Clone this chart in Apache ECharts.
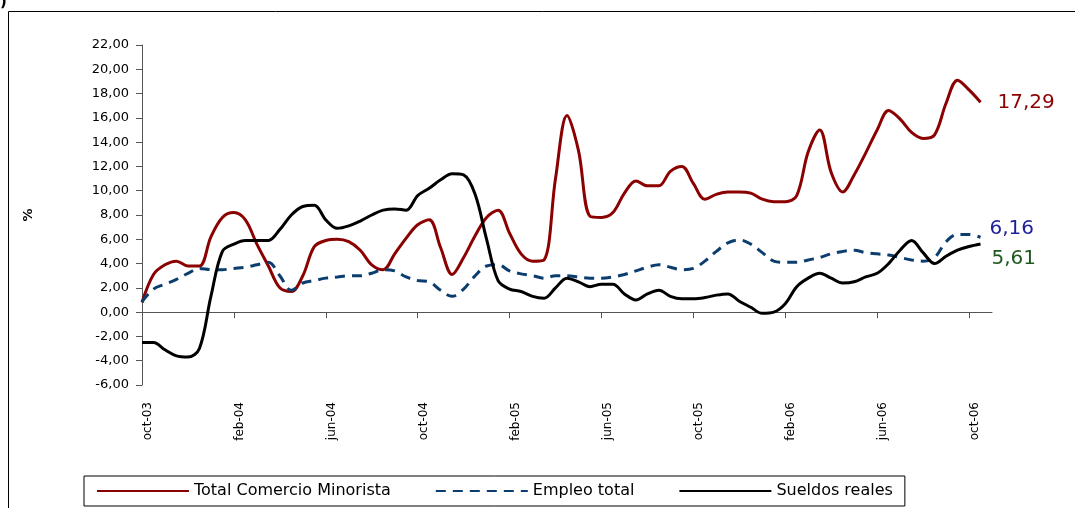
<!DOCTYPE html>
<html>
<head>
<meta charset="utf-8">
<script src="https://cdn.jsdelivr.net/npm/echarts@6/dist/echarts.min.js"></script>
<style>
html, body { margin: 0; padding: 0; background: #fff; }
#main { width: 1075px; height: 508px; }
</style>
</head>
<body>
<div id="main"></div>
<script>
// meses del periodo; cada mes se divide en dos quincenas
var months = ['oct-03','nov-03','dic-03','ene-04','feb-04','mar-04','abr-04','may-04','jun-04',
    'jul-04','ago-04','sep-04','oct-04','nov-04','dic-04','ene-05','feb-05','mar-05','abr-05',
    'may-05','jun-05','jul-05','ago-05','sep-05','oct-05','nov-05','dic-05','ene-06','feb-06',
    'mar-06','abr-06','may-06','jun-06','jul-06','ago-06','sep-06','oct-06','nov-06'];

var seriesNames = ['Total Comercio Minorista', 'Empleo total', 'Sueldos reales'];

var comercio = [0.8,3.1,3.9,4.2,3.8,3.8,6.2,7.8,8.2,7.6,5.6,3.8,2.0,1.7,3.0,5.4,5.9,6.0,5.8,5.1,
    3.9,3.5,4.8,6.1,7.2,7.6,5.3,3.1,4.5,6.3,7.8,8.4,6.5,4.8,4.2,4.3,11.0,16.2,13.3,7.9,
    7.8,8.2,9.8,10.8,10.4,10.4,11.6,12.0,10.6,9.3,9.7,9.9,9.9,9.8,9.3,9.1,9.1,9.6,13.2,15.0,
    11.5,9.9,11.3,13.1,15.0,16.6,15.9,14.8,14.3,14.6,17.2,19.1,18.3,17.29];

var empleo = [0.85,1.9,2.3,2.7,3.2,3.6,3.5,3.5,3.6,3.7,3.9,4.1,3.0,1.8,2.4,2.6,2.8,2.9,3.0,3.0,
    3.2,3.5,3.4,2.9,2.6,2.5,1.8,1.3,1.9,3.0,3.8,3.9,3.4,3.15,3.0,2.8,3.0,3.0,2.9,2.8,
    2.8,2.9,3.1,3.4,3.7,3.9,3.7,3.5,3.6,4.2,5.0,5.7,5.95,5.6,4.9,4.2,4.1,4.1,4.3,4.5,
    4.8,5.0,5.1,4.9,4.8,4.7,4.5,4.3,4.2,4.5,5.8,6.4,6.4,6.16];

var sueldos = [-2.5,-2.5,-3.1,-3.6,-3.7,-3.0,1.3,5.0,5.6,5.9,5.9,5.9,6.8,8.0,8.7,8.8,7.6,6.9,7.1,7.5,
    8.0,8.4,8.5,8.4,9.6,10.2,10.9,11.4,11.3,9.7,6.0,2.6,1.9,1.7,1.3,1.15,2.0,2.8,2.5,2.1,
    2.3,2.3,1.5,1.0,1.5,1.8,1.3,1.1,1.1,1.2,1.4,1.5,0.9,0.4,-0.1,0.0,0.7,2.1,2.8,3.2,
    2.8,2.4,2.5,2.9,3.2,4.0,5.1,5.9,4.9,4.0,4.6,5.1,5.4,5.61];

var categories = [];
months.forEach(function (m) {
    categories.push(m);
    categories.push(m + ' (2)');
});
categories = categories.slice(0, 75);

var font = 'DejaVu Sans';
function coma(v) {
    return v.toFixed(2).replace('.', ',');
}

var myChart = echarts.init(document.getElementById('main'));

var option = {
    animation: false,
    textStyle: { fontFamily: font },
    graphic: [
        {
            type: 'rect',
            shape: { x: 8.5, y: 11.5, width: 1100, height: 600 },
            style: { fill: 'none', stroke: '#000', lineWidth: 1 }
        },
        {
            type: 'text',
            left: 0,
            top: -5,
            style: { text: ')', font: 'bold 15px ' + font, fill: '#000' }
        }
    ],
    grid: { left: 142, right: 83, top: 45, bottom: 123 },
    legend: {
        left: 84,
        top: 476,
        data: seriesNames,
        itemWidth: 92,
        itemHeight: 12,
        itemGap: 44,
        padding: [7, 12, 7, 12],
        borderColor: '#000',
        borderWidth: 1,
        itemStyle: { opacity: 0 },
        textStyle: { fontSize: 16, color: '#000', fontFamily: font }
    },
    xAxis: [
        {
            type: 'category',
            data: categories,
            boundaryGap: false,
            position: 'bottom',
            axisLine: { show: false, onZero: false },
            axisTick: { show: false },
            axisLabel: {
                interval: 7,
                rotate: 90,
                margin: 17,
                verticalAlign: 'top',
                fontSize: 12,
                color: '#000'
            }
        },
        {
            type: 'category',
            data: categories,
            boundaryGap: false,
            position: 'bottom',
            axisLine: { show: true, onZero: true, lineStyle: { color: '#555', width: 1 } },
            axisTick: { show: true, interval: 7, length: 6, lineStyle: { color: '#555' } },
            axisLabel: { show: false }
        }
    ],
    yAxis: {
        type: 'value',
        min: -6,
        max: 22,
        interval: 2,
        name: '%',
        nameLocation: 'middle',
        nameRotate: 90,
        nameGap: 107,
        nameTextStyle: { fontWeight: 'bold', fontSize: 13, color: '#000' },
        axisLine: { show: true, lineStyle: { color: '#555', width: 1 } },
        axisTick: { show: true, length: 6, lineStyle: { color: '#555' } },
        splitLine: { show: false },
        axisLabel: {
            margin: 13,
            fontSize: 13,
            color: '#000',
            formatter: function (v) { return coma(v); }
        }
    },
    series: [
        {
            name: seriesNames[0],
            type: 'line',
            data: comercio,
            smooth: 0.35,
            symbol: 'none',
            lineStyle: { color: '#8b0000', width: 3 },
            itemStyle: { color: '#8b0000' },
            endLabel: {
                show: true,
                distance: 0,
                offset: [17, 1],
                color: '#8b0000',
                fontSize: 20,
                formatter: function (p) { return coma(p.value); }
            }
        },
        {
            name: seriesNames[1],
            type: 'line',
            data: empleo,
            smooth: 0.35,
            symbol: 'none',
            lineStyle: { color: '#0b3d6e', width: 3, type: [10, 7] },
            itemStyle: { color: '#0b3d6e' },
            endLabel: {
                show: true,
                distance: 0,
                offset: [9, -9],
                color: '#1f1f9a',
                fontSize: 20,
                formatter: function (p) { return coma(p.value); }
            }
        },
        {
            name: seriesNames[2],
            type: 'line',
            data: sueldos,
            smooth: 0.35,
            symbol: 'none',
            lineStyle: { color: '#000', width: 3 },
            itemStyle: { color: '#000' },
            endLabel: {
                show: true,
                distance: 0,
                offset: [11, 15],
                color: '#1e5a1e',
                fontSize: 20,
                formatter: function (p) { return coma(p.value); }
            }
        }
    ]
};
myChart.setOption(option);
</script>
</body>
</html>
